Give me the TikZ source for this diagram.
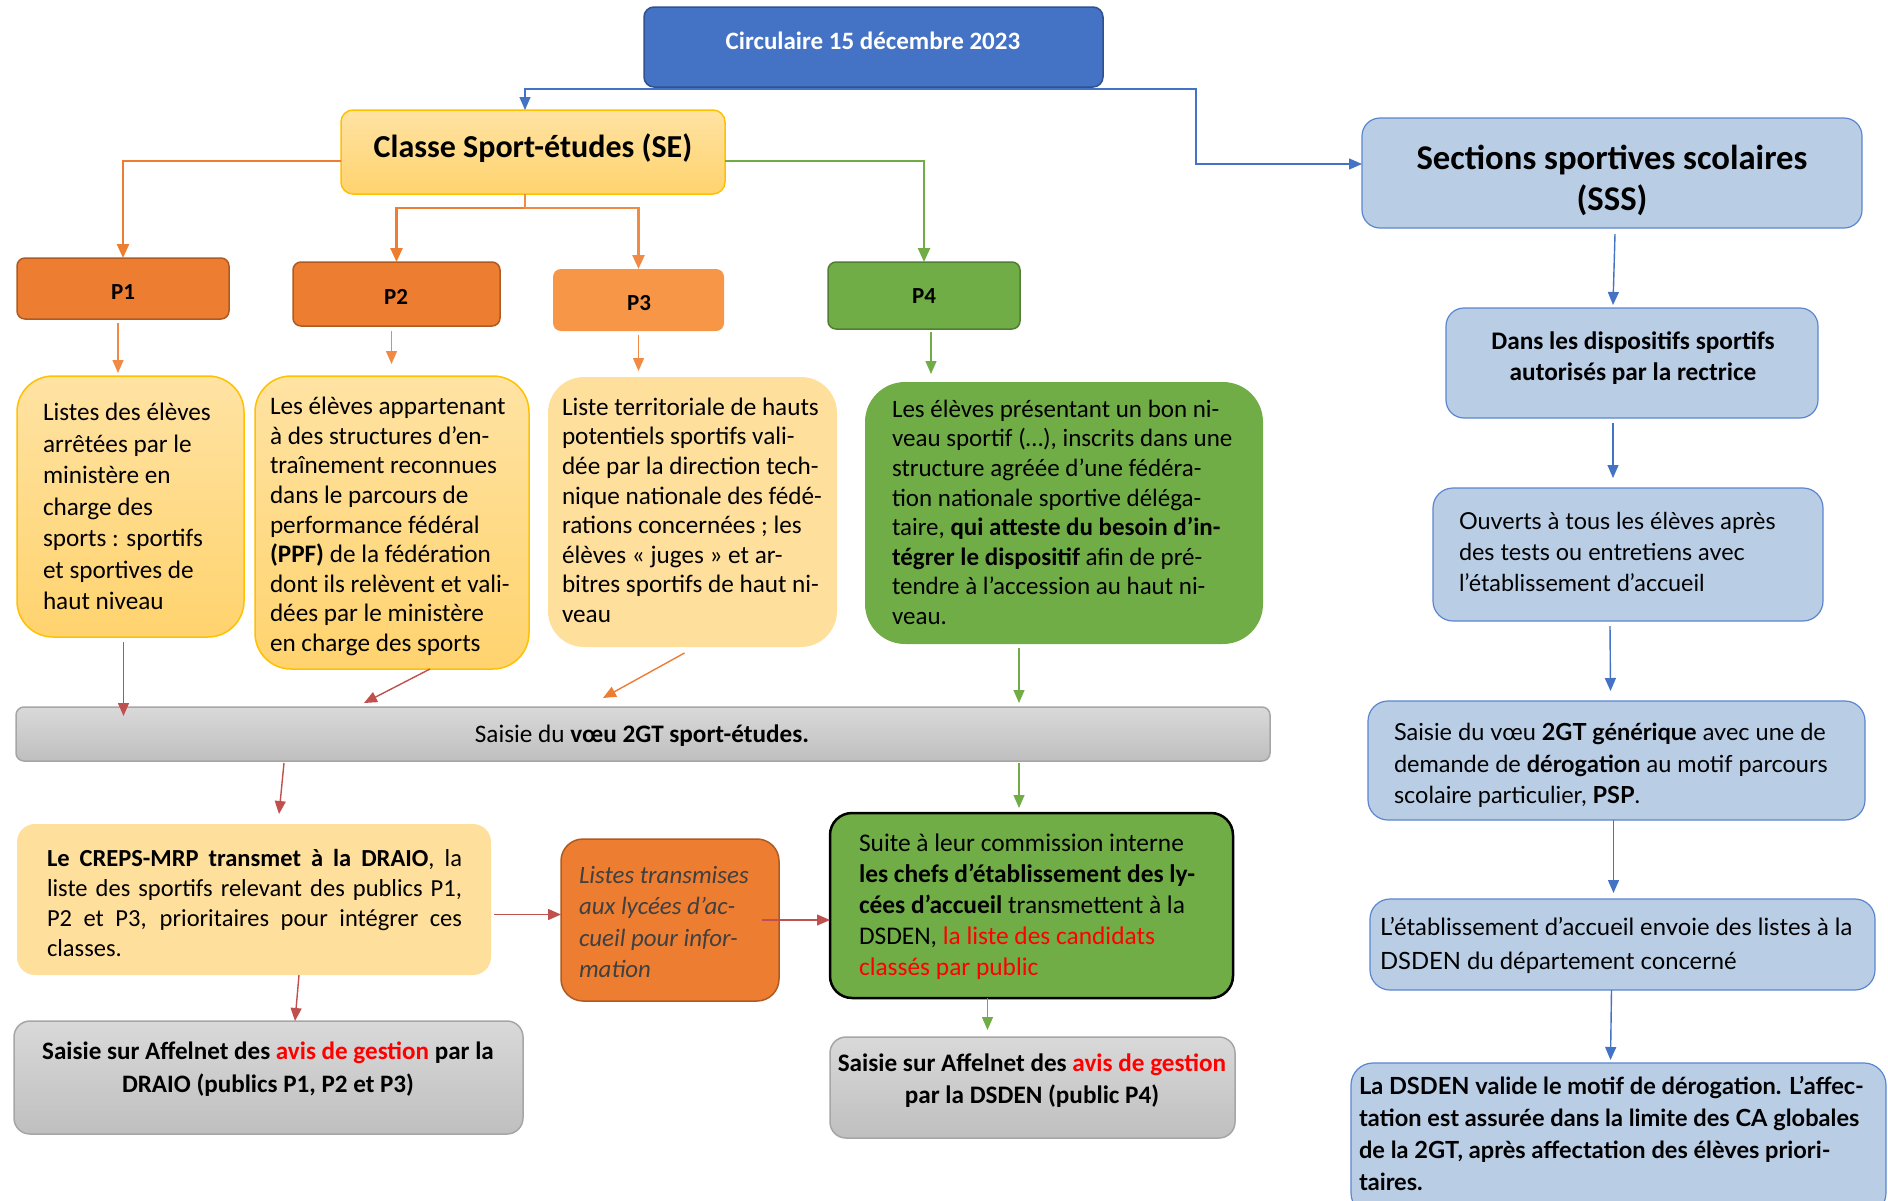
\documentclass[tikz,border=0pt]{standalone}
\usepackage{fontspec}
\setmainfont{Carlito}
\newfontfamily\mar{Lato}
\usetikzlibrary{arrows.meta,calc,fit}
\definecolor{cblue}{HTML}{4472C4}
\definecolor{cbluedk}{HTML}{2F528F}
\definecolor{cgold}{HTML}{FFC000}
\definecolor{cyelT}{HTML}{FFE3A3}
\definecolor{cyelB}{HTML}{FFD36E}
\definecolor{cpale}{HTML}{FFDF9C}
\definecolor{corange}{HTML}{ED7D31}
\definecolor{corangedk}{HTML}{AE5A21}
\definecolor{corangelt}{HTML}{F79646}
\definecolor{carrowor}{HTML}{F08A45}
\definecolor{cgreen}{HTML}{70AD47}
\definecolor{cgreendk}{HTML}{507E32}
\definecolor{cgrayT}{HTML}{D9D9D9}
\definecolor{cgrayB}{HTML}{BFBFBF}
\definecolor{cgraydk}{HTML}{A6A6A6}
\definecolor{cred}{HTML}{C0504D}
\definecolor{csky}{HTML}{B9CDE5}
\definecolor{cskydk}{HTML}{5B86CF}
\definecolor{cdarktxt}{HTML}{404040}
\begin{document}
\begin{tikzpicture}[x=1pt,y=-1pt,
  bx/.style={rectangle,inner sep=0pt,outer sep=0pt,line width=1.5pt},
  circbox/.style={bx,fill=cblue,draw=cbluedk,rounded corners=10pt},
  sebox/.style={bx,top color=cyelT,bottom color=cyelB,draw=cgold,rounded corners=12pt},
  pbox/.style={bx,fill=corange,draw=corangedk,rounded corners=8pt},
  p3box/.style={bx,fill=corangelt,rounded corners=8pt},
  p4box/.style={bx,fill=cgreen,draw=cgreendk,rounded corners=8pt},
  tybox/.style={bx,top color=cyelT,bottom color=cyelB,draw=cgold,rounded corners=36pt},
  tpbox/.style={bx,fill=cpale,rounded corners=36pt},
  tgbox/.style={bx,fill=cgreen,rounded corners=40pt},
  graybox/.style={bx,top color=cgrayT,bottom color=cgrayB,draw=cgraydk,rounded corners=#1},
  crepsbox/.style={bx,fill=cpale,rounded corners=18pt},
  ltbox/.style={bx,fill=corange,draw=corangedk,rounded corners=22pt},
  g2box/.style={bx,fill=cgreen,draw=black,line width=2.5pt,rounded corners=22pt},
  skybox/.style={bx,fill=csky,draw=cskydk,line width=1.2pt,rounded corners=#1},
  txt/.style={inner sep=0pt,outer sep=0pt,align=left,anchor=base west},
  ctxt/.style={inner sep=0pt,outer sep=0pt,align=center,anchor=base},
  arr/.style={line width=1.4pt,-{Triangle[length=13pt,width=11pt]}},
  harr/.style={line width=2.4pt,-{Triangle[length=14pt,width=12pt]}},
]
\useasboundingbox (0,0) rectangle (1888,1200);
\clip (0,0) rectangle (1888,1200);

% ---------- boxes ----------
\node[circbox,fit={(644,7)(1103,87)}] (circ) {};
\node[sebox,fit={(341,110)(725,194)}] (se) {};
\node[pbox,fit={(17,258)(229,319)}] (p1) {};
\node[pbox,fit={(293,262)(500,326)}] (p2) {};
\node[p3box,fit={(553,269)(724,331)}] (p3) {};
\node[p4box,fit={(828,262)(1020,329)}] (p4) {};
\node[tybox,fit={(17,376)(244,637)}] (t1) {};
\node[tybox,fit={(255,376)(529,669)}] (t2) {};
\node[tpbox,fit={(548,377)(837,647)}] (t3) {};
\node[tgbox,fit={(865,382)(1263,644)}] (t4) {};
\node[graybox=8pt,fit={(16,707)(1270,761)}] (bar) {};
\node[crepsbox,fit={(17,824)(491,975)}] (creps) {};
\node[ltbox,fit={(561,839)(779,1001)}] (lt) {};
\node[g2box,fit={(830,813)(1233,998)}] (g2) {};
\node[graybox=16pt,fit={(14,1021)(523,1134)}] (af1) {};
\node[graybox=16pt,fit={(830,1037)(1235,1138)}] (af2) {};
\node[skybox=18pt,fit={(1362,118)(1862,228)}] (sss) {};
\node[skybox=18pt,fit={(1446,308)(1818,418)}] (dans) {};
\node[skybox=20pt,fit={(1433,488)(1823,621)}] (ouv) {};
\node[skybox=20pt,fit={(1368,701)(1865,820)}] (sai) {};
\node[skybox=20pt,fit={(1370,899)(1875,990)}] (etab) {};
\node[skybox=22pt,fit={(1351,1063)(1886,1215)}] (dsden) {};

% ---------- texts ----------
\begin{scope}[yshift=-2.5pt]
\node[inner sep=0pt,text=white,font=\fontsize{25}{30}\selectfont\bfseries] (circt) at (873,38) {Circulaire 15 décembre 2023};
\node[inner sep=0pt,font=\fontsize{32}{38}\selectfont\bfseries] (set) at (533,146) {Classe Sport-études (SE)};
\node[inner sep=0pt,font=\fontsize{23}{27}\selectfont\bfseries] (p1t) at (123,290) {P1};
\node[inner sep=0pt,font=\fontsize{23}{27}\selectfont\bfseries] (p2t) at (396,294) {P2};
\node[inner sep=0pt,font=\fontsize{23}{27}\selectfont\bfseries] (p3t) at (639,301) {P3};
\node[inner sep=0pt,font=\fontsize{23}{27}\selectfont\bfseries] (p4t) at (924,294) {P4};

\node[txt,font=\fontsize{25.2}{31.5}\selectfont] (t1t) at (43,607) {Listes des élèves\\arrêtées par le\\ministère en\\charge des\\sports : sportifs\\et sportives de\\haut niveau};
\node[txt,font=\fontsize{25.2}{29.6}\selectfont] (t2t) at (270,649) {Les élèves appartenant\\à des structures d’en-\\traînement reconnues\\dans le parcours de\\performance fédéral\\\textbf{(PPF)} de la fédération\\dont ils relèvent et vali-\\dées par le ministère\\en charge des sports};
\node[txt,font=\fontsize{25.2}{29.6}\selectfont] (t3t) at (562,620) {Liste territoriale de hauts\\potentiels sportifs vali-\\dée par la direction tech-\\nique nationale des fédé-\\rations concernées ; les\\élèves « juges » et ar-\\bitres sportifs de haut ni-\\veau};
\node[txt,font=\fontsize{25}{29.6}\selectfont] (t4t) at (892,622) {Les élèves présentant un bon ni-\\veau sportif (…), inscrits dans une\\structure agréée d’une fédéra-\\tion nationale sportive déléga-\\taire, \textbf{qui atteste du besoin d’in-}\\\textbf{tégrer le dispositif} afin de pré-\\tendre à l’accession au haut ni-\\veau.};

\node[inner sep=0pt,font=\fontsize{25.2}{30}\selectfont] (bart) at (642,733) {Saisie du \textbf{vœu 2GT sport-études.}};

\node[txt,font=\fontsize{24.5}{30}\selectfont] (crepst) at (47,954) {\makebox[415pt][s]{\textbf{Le CREPS-MRP transmet à la DRAIO}, la}\\\makebox[415pt][s]{liste des sportifs relevant des publics P1,}\\\makebox[415pt][s]{P2 et P3, prioritaires pour intégrer ces}\\classes.};
\node[txt,text=cdarktxt,font=\fontsize{24.9}{31.3}\selectfont\itshape] (ltt) at (579,975) {Listes transmises\\aux lycées d’ac-\\cueil pour infor-\\mation};
\node[txt,font=\fontsize{25.4}{31}\selectfont] (g2t) at (859,973) {Suite à leur commission interne\\\textbf{les chefs d’établissement des ly-}\\\textbf{cées d’accueil} transmettent à la\\DSDEN, \textcolor{red}{la liste des candidats}\\\textcolor{red}{classés par public}};
\node[ctxt,font=\fontsize{25.1}{33}\selectfont\bfseries] (af1t) at (268,1090) {Saisie sur Affelnet des \textcolor{red}{avis de gestion} par la\\DRAIO (publics P1, P2 et P3)};
\node[ctxt,font=\fontsize{25.2}{32}\selectfont\bfseries] (af2t) at (1032,1101) {Saisie sur Affelnet des \textcolor{red}{avis de gestion}\\par la DSDEN (public P4)};

\node[ctxt,font=\fontsize{34.7}{41}\selectfont\bfseries] (ssst) at (1612,208) {Sections sportives scolaires\\(SSS)};
\node[ctxt,font=\fontsize{25.3}{31}\selectfont\bfseries] (danst) at (1633,378) {Dans les dispositifs sportifs\\autorisés par la rectrice};
\node[txt,font=\mar\fontsize{23.4}{31}\selectfont] (ouvt) at (1459,589) {Ouverts à tous les élèves après\\des tests ou entretiens avec\\l’établissement d’accueil};
\node[txt,font=\mar\fontsize{23.5}{31.5}\selectfont] (sait) at (1394,801) {Saisie du vœu \textbf{2GT générique} avec une de\\demande de \textbf{dérogation} au motif parcours\\scolaire particulier, \textbf{PSP}.};
\node[txt,font=\mar\fontsize{23.8}{34}\selectfont] (etabt) at (1380,967) {L’établissement d’accueil envoie des listes à la\\DSDEN du département concerné};
\node[txt,font=\mar\fontsize{23.6}{32}\selectfont\bfseries] (dsdent) at (1359,1188) {La DSDEN valide le motif de dérogation. L’affec-\\tation est assurée dans la limite des CA globales\\de la 2GT, après affectation des élèves priori-\\taires.};
\end{scope}

% ---------- connectors ----------
\coordinate (cb) at (1196,89);
\draw[arr,cblue] ([yshift=-2pt]circ.south) -| ([xshift=-8pt]se.north);
\draw[arr,cblue] ([yshift=-2pt]circ.south) -- (cb) |- ([yshift=9pt]sss.west);

\draw[harr,corange] ([yshift=-9pt]se.west) -| (p1.north);
\draw[harr,corange] ([xshift=-8pt]se.south) -- ++(0,14) -| (p2.north);
\draw[harr,carrowor] ([xshift=-8pt]se.south) -- ++(0,14) -| (p3.north);
\draw[harr,cgreen] ([yshift=-9pt]se.east) -| (p4.north);

\draw[arr,carrowor] ([xshift=-5pt,yshift=-4pt]p1.south) -- ([xshift=-5pt,yshift=3pt]p1.south |- t1.north);
\draw[arr,carrowor] ([xshift=-5pt,yshift=-5pt]p2.south) -- ([xshift=-5pt,yshift=12pt]p2.south |- t2.north);
\draw[arr,carrowor] ([yshift=-4pt]p3.south) -- ([yshift=6pt]p3.south |- t3.north);
\draw[arr,cgreen] ([xshift=7pt,yshift=-3pt]p4.south) -- ([xshift=7pt,yshift=8pt]p4.south |- t4.north);

\draw[arr,cred] ([xshift=-7pt,yshift=-5pt]t1.south) -- ([xshift=-7pt,yshift=-9pt]t1.south |- bar.north);
\draw[arr,cred] ([xshift=38pt]t2.south) -- ([xshift=348pt,yshift=4pt]bar.north west);
\draw[arr,corange] ([xshift=-8pt,yshift=-6pt]t3.south) -- ([xshift=587pt,yshift=9pt]bar.north west);
\draw[arr,cgreen] ([xshift=-45pt,yshift=-4pt]t4.south) -- ([xshift=-45pt,yshift=4pt]t4.south |- bar.north);

\draw[arr,cred] ([xshift=268pt,yshift=-2pt]bar.south west) -- ([xshift=262pt,yshift=10pt]creps.north west);
\draw[arr,cgreen] ([xshift=1003pt,yshift=-2pt]bar.south west) -- ([xshift=1003pt,yshift=5pt]bar.south west |- g2.north);

\draw[arr,cred] ([xshift=3pt,yshift=-15pt]creps.east) -- ([yshift=-15pt]lt.west |- creps.east);
\draw[arr,cred] ([xshift=-17pt]lt.east) -- (g2.west |- lt.east);
\draw[arr,cred] ([xshift=45pt]creps.south) -- ([xshift=281pt]af1.north west);
\draw[arr,cgreen] ([xshift=-44pt]g2.south) -- ([xshift=-44pt,yshift=7pt]g2.south |- af2.north);

\draw[arr,cblue] ([xshift=3pt,yshift=-6pt]sss.south) -- ([xshift=-19pt,yshift=3pt]dans.north);
\draw[arr,cblue] ([xshift=-19pt,yshift=-5pt]dans.south) -- ([xshift=-15pt,yshift=10pt]ouv.north);
\draw[arr,cblue] ([xshift=-18pt,yshift=-5pt]ouv.south) -- ([xshift=-6pt,yshift=10pt]sai.north);
\draw[arr,cblue] ([xshift=-3pt]sai.south) -- ([xshift=-9pt,yshift=6pt]etab.north);
\draw[arr,cblue] ([xshift=-11pt]etab.south) -- ([xshift=-8pt,yshift=3pt]dsden.north);
\end{tikzpicture}
\end{document}
